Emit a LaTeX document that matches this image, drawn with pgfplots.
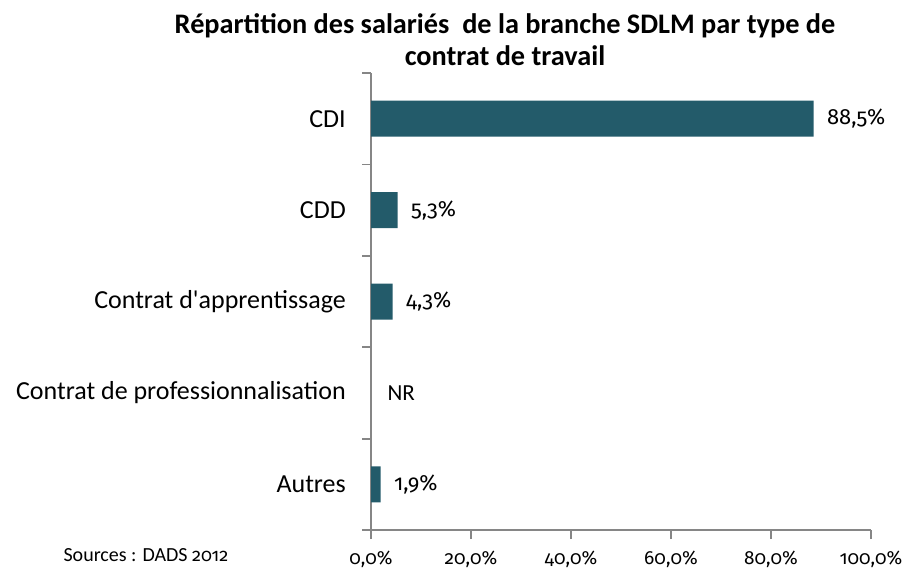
\documentclass[border=0pt]{standalone}
\usepackage{pgfplots}
\pgfplotsset{compat=1.18}
\usepackage{fontspec}
\setmainfont{Carlito}
\newfontfamily\numfont{Fira Sans}[Numbers=OldStyle]
\definecolor{barc}{HTML}{235B6A}
\definecolor{axc}{HTML}{868686}
\begin{document}
\begin{tikzpicture}[x=1pt,y=1pt]
\path[use as bounding box] (0,0) rectangle (907,576);
\node[font=\fontsize{28.3}{32}\selectfont\bfseries, align=center] at (505,536) {Répartition des salariés\ \ de la branche SDLM par type de\\contrat de travail};
\node[font=\fontsize{20}{24}\selectfont, anchor=west] at (60,21) {Sources : DADS {\numfont\fontsize{18}{24}\selectfont 2012}};
\begin{axis}[
  at={(371pt,46pt)}, anchor=south west,
  scale only axis, width=500pt, height=457pt,
  xmin=0, xmax=100, ymin=-0.5, ymax=4.5,
  axis x line*=bottom, axis y line*=left,
  axis line style={axc, line width=1.8pt},
  every tick/.style={axc, line width=1.8pt},
  tick align=outside,
  xtick={0,20,40,60,80,100},
  major tick length=9pt,
  /pgf/number format/.cd, fixed, fixed zerofill, precision=1, use comma, assume math mode=true,
  /pgfplots/.cd,
  xticklabel={\pgfmathprintnumber{\tick}\%},
  xticklabel style={font=\fontsize{19}{24}\selectfont\numfont, inner sep=0pt, anchor=north, yshift=-12pt},
  ytick={-0.5,0.5,1.5,2.5,3.5,4.5},
  yticklabels={},
  extra y ticks={0,1,2,3,4},
  extra y tick labels={Autres,Contrat de professionnalisation,Contrat d\textquotesingle apprentissage,CDD,CDI},
  extra y tick style={major tick length=0pt, yticklabel style={font=\fontsize{26}{30}\selectfont, inner sep=0pt, anchor=east, xshift=-25pt}},
  xbar, bar width=36pt,
  point meta=explicit symbolic,
  nodes near coords,
  every node near coord/.append style={font=\fontsize{22}{26}\selectfont\numfont, anchor=west, xshift=10pt, black},
  clip=false,
]
\addplot[fill=barc, draw=none] coordinates {
 (88.5,4) [88,5\%]
 (5.3,3) [5,3\%]
 (4.3,2) [4,3\%]
 (1.9,0) [1,9\%]
};
\node[font=\fontsize{23}{26}\selectfont, anchor=west] at (axis cs:2.6,1) {NR};
\end{axis}
\end{tikzpicture}
\end{document}
